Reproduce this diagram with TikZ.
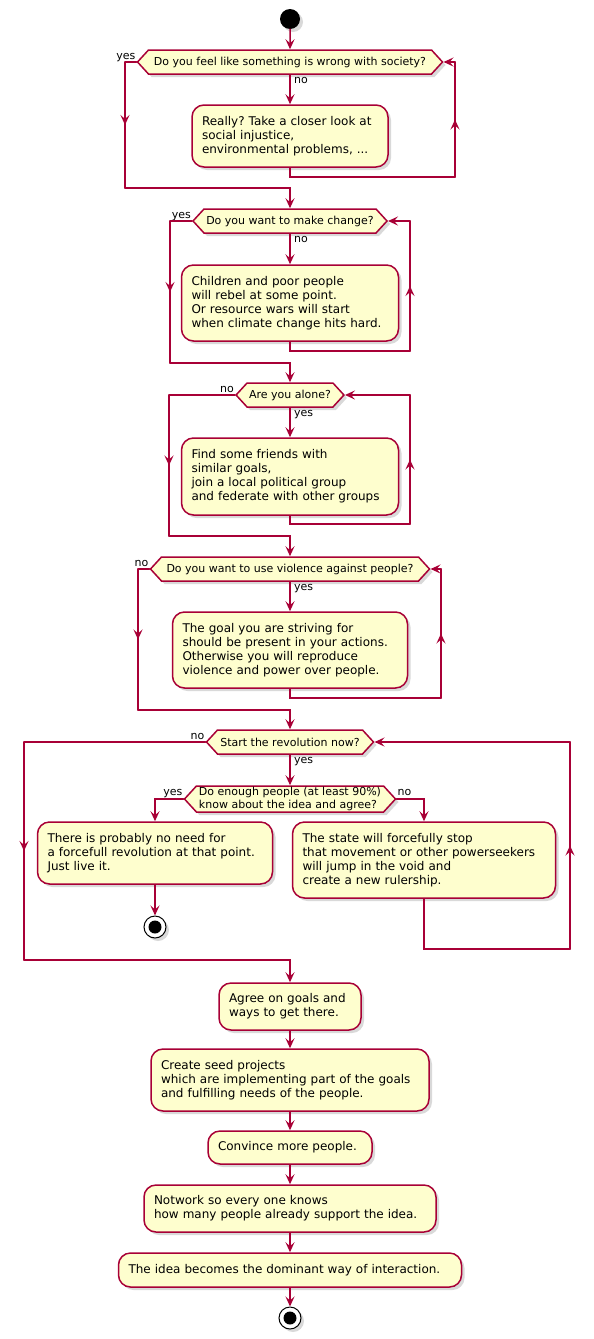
\documentclass[tikz,border=0pt]{standalone}
\usepackage{fontspec}
\setmainfont{DejaVu Sans}
\usetikzlibrary{arrows.meta,shapes.symbols,shadows,decorations.markings}
\definecolor{umlred}{HTML}{A80036}
\definecolor{umlfill}{HTML}{FEFECE}
\frenchspacing
\begin{document}
\begin{tikzpicture}[x=1pt,y=-1pt,line cap=round,
  >={Stealth[length=10pt,width=9pt,inset=4pt]},
  flow/.style={color=umlred,line width=1.5pt},
  midtip/.style={postaction={decorate},
    decoration={markings,mark=at position 0.5 with {\arrow{>}}}},
  shade/.style={drop shadow={shadow xshift=3pt,shadow yshift=-3pt,opacity=0.3}},
  act/.style={draw=umlred,fill=umlfill,line width=1.5pt,rounded corners=12pt,shade,
    inner xsep=10pt,inner ysep=0pt,align=left,font=\fontsize{12}{14}\selectfont},
  cond/.style={signal,signal to=east and west,signal pointer angle=95,
    draw=umlred,fill=umlfill,line width=1.5pt,shade,minimum height=24pt,
    inner xsep=2pt,inner ysep=0pt,align=left,font=\fontsize{11}{13}\selectfont},
  lbl/.style={font=\fontsize{11}{13}\selectfont,inner sep=0pt},
  startnode/.style={circle,fill=black,minimum size=20pt,inner sep=0pt,shade},
  stopnode/.style={circle,draw=black,fill=white,line width=1pt,minimum size=22pt,
    inner sep=0pt,shade,
    path picture={\fill[black] (path picture bounding box.center) circle (6.5pt);}}]
  \useasboundingbox (0,0) rectangle (594,1339);

  % questions and actions
  \node[startnode] (start) at (290,19) {};
  \node[cond,minimum width=305pt] (q1) at (290,62) {Do you feel like something is wrong with society?};
  \node[act,text width=176pt,minimum height=62pt] (a1) at (290,136)
    {Really? Take a closer look at\\social injustice,\\environmental problems, ...};
  \node[cond,minimum width=194pt] (q2) at (290,221) {Do you want to make change?};
  \node[act,text width=197pt,minimum height=76pt] (a2) at (290,303)
    {Children and poor people\\will rebel at some point.\\Or resource wars will start\\when climate change hits hard.};
  \node[cond,minimum width=107pt] (q3) at (290,395) {Are you alone?};
  \node[act,text width=197pt,minimum height=77pt] (a3) at (290,476.5)
    {Find some friends with\\similar goals,\\join a local political group\\and federate with other groups};
  \node[cond,minimum width=279pt] (q4) at (290,569) {Do you want to use violence against people?};
  \node[act,text width=215pt,minimum height=76pt] (a4) at (290,650)
    {The goal you are striving for\\should be present in your actions.\\Otherwise you will reproduce\\violence and power over people.};
  \node[cond,minimum width=167pt] (q5) at (290,742) {Start the revolution now?};
  \node[cond,minimum width=211pt,minimum height=26pt] (q6) at (290,799)
    {Do enough people (at least 90\%)\\know about the idea and agree?};
  \node[act,text width=215pt,minimum height=62pt] (a5) at (155,853)
    {There is probably no need for\\a forcefull revolution at that point.\\Just live it.};
  \node[act,text width=243pt,minimum height=76pt] (a6) at (424,860)
    {The state will forcefully stop\\that movement or other powerseekers\\will jump in the void and\\create a new rulership.};
  \node[stopnode] (stop1) at (155,927) {};
  \node[act,text width=122pt,minimum height=47pt] (a7) at (290,1006.5)
    {Agree on goals and\\ways to get there.};
  \node[act,text width=258pt,minimum height=62pt] (a8) at (290,1080)
    {Create seed projects\\which are implementing part of the goals\\and fulfilling needs of the people.};
  \node[act,text width=144pt,minimum height=33pt] (a9) at (290,1147.5) {Convince more people.};
  \node[act,text width=272pt,minimum height=47pt] (a10) at (290,1208.5)
    {Notwork so every one knows\\how many people already support the idea.};
  \node[act,text width=323pt,minimum height=34pt] (a11) at (290,1270)
    {The idea becomes the dominant way of interaction.};
  \node[stopnode] (stop2) at (290,1318) {};

  % branch labels
  \node[lbl,anchor=base east] (y1) at ([xshift=-1pt,yshift=3pt]q1.west) {yes};
  \node[lbl,anchor=base west] (n1) at ([xshift=4pt,yshift=-9pt]q1.south) {no};
  \node[lbl,anchor=base east] (y2) at ([xshift=-1pt,yshift=3pt]q2.west) {yes};
  \node[lbl,anchor=base west] (n2) at ([xshift=4pt,yshift=-9pt]q2.south) {no};
  \node[lbl,anchor=base east] (n3) at ([xshift=-1pt,yshift=3pt]q3.west) {no};
  \node[lbl,anchor=base west] (y3) at ([xshift=4pt,yshift=-9pt]q3.south) {yes};
  \node[lbl,anchor=base east] (n4) at ([xshift=-1pt,yshift=3pt]q4.west) {no};
  \node[lbl,anchor=base west] (y4) at ([xshift=4pt,yshift=-9pt]q4.south) {yes};
  \node[lbl,anchor=base east] (n5) at ([xshift=-1pt,yshift=3pt]q5.west) {no};
  \node[lbl,anchor=base west] (y5) at ([xshift=4pt,yshift=-9pt]q5.south) {yes};
  \node[lbl,anchor=base east] (y6) at ([xshift=-1pt,yshift=4pt]q6.west) {yes};
  \node[lbl,anchor=base west] (n6) at ([xshift=1pt,yshift=4pt]q6.east) {no};

  % flows
  \draw[flow,->] (start) -- (q1);
  \foreach \q/\a/\n/\lx/\jy/\rx/\ry in {q1/a1/q2/125/188/455/177,
      q2/a2/q3/170/363/410/351, q3/a3/q4/169/536/410/524, q4/a4/q5/138/710/441/698}{
    \coordinate (L) at (\lx,\jy);
    \coordinate (R) at (\rx,\ry);
    \draw[flow] (\q.west) -- (\q.west -| L);
    \draw[flow,midtip] (\q.west -| L) -- (L);
    \draw[flow,->] (L) -| (\n.north);
    \draw[flow,->] (\q.south) -- (\a.north);
    \draw[flow] (\a.south) |- (R);
    \draw[flow,midtip] (R) -- (R |- \q.east);
    \draw[flow,->] (R |- \q.east) -- (\q.east);
  }
  \coordinate (L5) at (24,960);
  \coordinate (R5) at (570,949);
  \draw[flow] (q5.west) -- (q5.west -| L5);
  \draw[flow,midtip] (q5.west -| L5) -- (L5);
  \draw[flow,->] (L5) -| (a7.north);
  \draw[flow,->] (q5.south) -- (q6.north);
  \draw[flow,->] (q6.west) -| (a5.north);
  \draw[flow,->] (q6.east) -| (a6.north);
  \draw[flow,->] (a5.south) -- (stop1);
  \draw[flow] (a6.south) |- (R5);
  \draw[flow,midtip] (R5) -- (R5 |- q5.east);
  \draw[flow,->] (R5 |- q5.east) -- (q5.east);
  \draw[flow,->] (a7) -- (a8);
  \draw[flow,->] (a8) -- (a9);
  \draw[flow,->] (a9) -- (a10);
  \draw[flow,->] (a10) -- (a11);
  \draw[flow,->] (a11) -- (stop2);
\end{tikzpicture}
\end{document}
